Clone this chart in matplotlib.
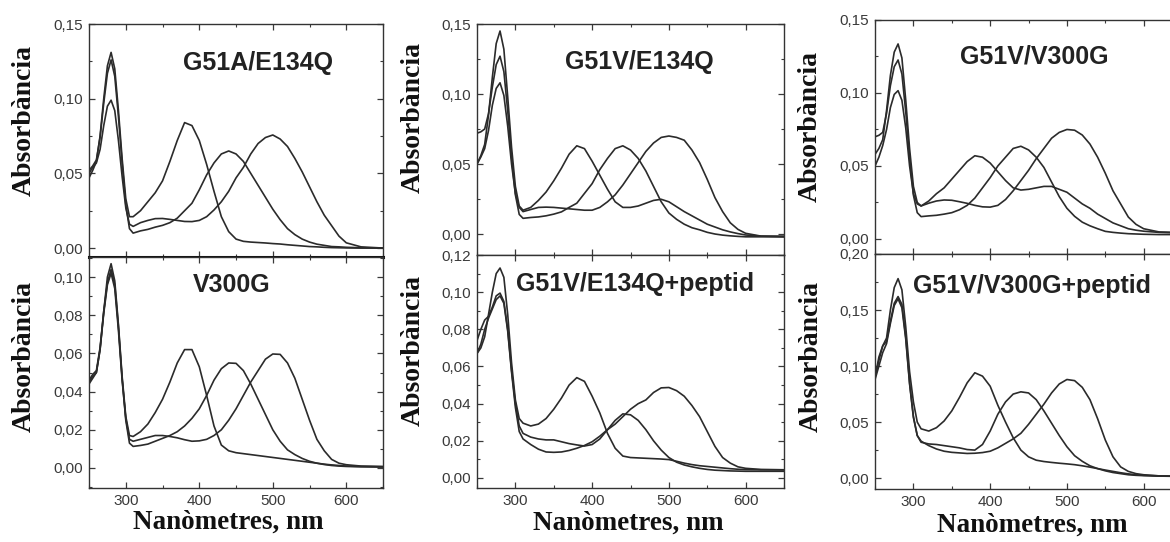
import matplotlib
matplotlib.use('Agg')
import matplotlib.pyplot as plt
from matplotlib.ticker import FixedLocator, MultipleLocator, FuncFormatter

# wavelength grid (nm) shared by every spectrum
wl = [250, 255, 260, 265, 270, 275, 280, 285, 290, 295, 300, 305, 310,
      320, 330, 340, 350, 360, 370, 380, 390, 400, 410, 420, 430, 440,
      450, 460, 470, 480, 490, 500, 510, 520, 530, 540, 550, 560, 570,
      580, 590, 600, 620, 650]

# G51A/E134Q
g51a_e134q_380 = [.047, .052, .058, .075, .100, .122, .131, .120, .092, .060, .033, .021, .021,
                  .025, .031, .037, .045, .058, .072, .084, .082, .072, .056, .038, .021, .011,
                  .006, .0045, .004, .0037, .0034, .003, .0027, .0022, .0018, .0014, .001, .0008, .0005,
                  .0003, .0002, .0001, 0, 0]
g51a_e134q_440 = [.052, .055, .059, .074, .097, .117, .126, .115, .088, .057, .029, .013, .010,
                  .0115, .0125, .014, .0152, .017, .020, .025, .030, .039, .049, .057, .063, .065,
                  .063, .058, .050, .042, .034, .026, .019, .013, .009, .006, .004, .0026, .0018,
                  .001, .0008, .0005, .0002, 0]
g51a_e134q_500 = [.050, .054, .057, .066, .082, .095, .099, .092, .072, .048, .027, .016, .0145,
                  .017, .0185, .0197, .0198, .0192, .0185, .0178, .0177, .0185, .021, .0255, .031, .038,
                  .047, .054, .063, .070, .074, .0757, .073, .068, .060, .051, .041, .031, .022,
                  .015, .008, .0035, .0008, 0]

# V300G
v300g_380 = [.044, .047, .050, .062, .082, .100, .107, .098, .075, .048, .027, .017, .0165,
             .019, .023, .029, .036, .045, .055, .062, .062, .053, .038, .022, .012, .009,
             .008, .0075, .007, .0065, .006, .0055, .005, .0045, .004, .0035, .003, .0025, .002,
             .0016, .0013, .001, .0008, .0006]
v300g_440 = [.046, .049, .051, .063, .082, .097, .104, .096, .074, .047, .025, .013, .0113,
             .0118, .0125, .014, .0155, .017, .019, .022, .026, .031, .038, .046, .052, .055,
             .0548, .051, .044, .036, .028, .020, .014, .0095, .007, .005, .0035, .0025, .0018,
             .0013, .001, .0008, .0006, .0005]
v300g_500 = [.045, .048, .050, .062, .081, .096, .102, .094, .072, .046, .026, .015, .014,
             .015, .016, .017, .017, .0165, .0158, .0148, .014, .0142, .015, .017, .020, .025,
             .031, .038, .045, .051, .057, .0597, .0595, .055, .047, .036, .025, .015, .009,
             .0045, .0025, .0017, .001, .0008]

# G51V/E134Q
g51v_e134q_380 = [.050, .056, .064, .085, .112, .136, .145, .132, .098, .062, .034, .020, .017,
                  .019, .024, .030, .038, .047, .057, .063, .061, .052, .042, .032, .023, .019,
                  .019, .020, .022, .024, .0248, .023, .0195, .016, .013, .010, .007, .005, .003,
                  .0015, .0003, -.0007, -.0015, -.002]
g51v_e134q_440 = [.072, .073, .075, .086, .105, .121, .127, .116, .088, .055, .028, .014, .0112,
                  .0118, .0122, .013, .0142, .0158, .019, .022, .029, .036, .046, .054, .061, .063,
                  .060, .054, .045, .034, .023, .015, .0105, .007, .0045, .003, .0012, 0, -.0008,
                  -.0013, -.0017, -.002, -.002, -.002]
g51v_e134q_500 = [.050, .055, .061, .074, .092, .104, .108, .099, .077, .050, .029, .019, .016,
                  .0175, .019, .0192, .019, .0185, .018, .0175, .017, .017, .019, .023, .028, .035,
                  .043, .051, .059, .065, .069, .070, .069, .067, .060, .051, .039, .026, .016,
                  .008, .0033, .0005, -.0015, -.0015]

# G51V/E134Q+peptid
g51v_e134q_pep_380 = [.067, .070, .076, .088, .100, .110, .113, .108, .088, .062, .042, .032, .0295,
                      .028, .029, .032, .037, .043, .050, .054, .052, .044, .035, .024, .016, .0118,
                      .011, .0108, .0106, .0104, .0102, .0099, .009, .008, .0072, .0066, .0062, .0058, .0054,
                      .005, .0047, .0045, .0044, .0044]
g51v_e134q_pep_440 = [.074, .080, .085, .087, .092, .098, .0995, .095, .080, .058, .040, .028, .024,
                      .022, .021, .0205, .0205, .0195, .0185, .0178, .0172, .018, .021, .026, .031, .0345,
                      .034, .031, .026, .020, .015, .011, .0085, .007, .006, .0052, .0046, .0042, .004,
                      .0038, .0037, .0036, .0036, .0036]
g51v_e134q_pep_500 = [.067, .072, .080, .086, .091, .096, .098, .094, .079, .057, .038, .025, .021,
                      .018, .0155, .014, .0138, .014, .0148, .016, .0175, .0195, .0225, .026, .029, .033,
                      .037, .040, .042, .046, .0485, .0487, .047, .044, .039, .033, .025, .017, .011,
                      .008, .006, .0052, .0046, .0044]

# G51V/V300G
g51v_v300g_380 = [.058, .062, .068, .088, .112, .128, .1336, .124, .095, .062, .036, .025, .0226,
                  .026, .031, .035, .041, .047, .053, .057, .056, .052, .046, .040, .035, .0335,
                  .034, .035, .036, .036, .034, .032, .028, .024, .021, .017, .014, .011, .009,
                  .007, .006, .0053, .0045, .004]
g51v_v300g_440 = [.070, .071, .073, .086, .105, .118, .1226, .113, .087, .056, .030, .018, .0153,
                  .0158, .0162, .017, .018, .020, .023, .028, .035, .042, .050, .056, .062, .0635,
                  .061, .056, .049, .039, .029, .021, .0155, .0115, .009, .007, .0052, .0045, .004,
                  .0036, .0034, .0032, .003, .003]
g51v_v300g_500 = [.050, .056, .064, .075, .090, .099, .1016, .095, .076, .050, .031, .024, .0226,
                  .0245, .026, .0267, .0265, .0255, .0244, .023, .022, .0218, .023, .027, .033, .040,
                  .047, .055, .062, .069, .073, .075, .0745, .0712, .065, .056, .045, .033, .024,
                  .015, .010, .007, .0048, .0044]

# G51V/V300G+peptid
g51v_v300g_pep_380 = [.090, .105, .118, .125, .150, .170, .178, .168, .135, .095, .068, .050, .044,
                      .042, .045, .051, .060, .072, .085, .094, .091, .082, .065, .050, .036, .025,
                      .019, .016, .0148, .014, .0133, .0127, .012, .011, .0098, .0085, .0072, .006, .0048,
                      .0038, .003, .0025, .002, .0015]
g51v_v300g_pep_440 = [.090, .108, .118, .122, .140, .156, .162, .155, .126, .085, .055, .038, .032,
                      .0305, .030, .029, .028, .027, .0255, .025, .030, .042, .057, .068, .075, .077,
                      .076, .070, .060, .049, .038, .028, .020, .015, .011, .0085, .0065, .005, .004,
                      .003, .0025, .0022, .0018, .0015]
g51v_v300g_pep_500 = [.088, .100, .112, .120, .138, .154, .160, .152, .124, .084, .054, .038, .033,
                      .029, .026, .024, .023, .0225, .022, .0222, .0228, .024, .027, .031, .035, .040,
                      .048, .057, .066, .076, .084, .088, .087, .081, .070, .053, .034, .019, .010,
                      .006, .004, .003, .002, .0015]

titles = ['G51A/E134Q', 'V300G', 'G51V/E134Q', 'G51V/E134Q+peptid',
          'G51V/V300G', 'G51V/V300G+peptid']
spectra = [
    [g51a_e134q_380, g51a_e134q_440, g51a_e134q_500],
    [v300g_380, v300g_440, v300g_500],
    [g51v_e134q_380, g51v_e134q_440, g51v_e134q_500],
    [g51v_e134q_pep_380, g51v_e134q_pep_440, g51v_e134q_pep_500],
    [g51v_v300g_380, g51v_v300g_440, g51v_v300g_500],
    [g51v_v300g_pep_380, g51v_v300g_pep_440, g51v_v300g_pep_500],
]
yticks = [[0, .05, .10, .15], [0, .02, .04, .06, .08, .10],
          [0, .05, .10, .15], [0, .02, .04, .06, .08, .10, .12],
          [0, .05, .10, .15], [0, .05, .10, .15, .20]]
ylims = [(-0.006, 0.15), (-0.0105, 0.1105), (-0.015, 0.15), (-0.0054, 0.12),
         (-0.0103, 0.15), (-0.0097, 0.2)]
xticks = [300, 400, 500, 600]

# layout (figure fractions), title spot in axes fractions, label spots in pixels
rects = [[0.0761, 0.5258, 0.2513, 0.4299], [0.0761, 0.0996, 0.2513, 0.4262],
         [0.4077, 0.5295, 0.2624, 0.4262], [0.4077, 0.0996, 0.2624, 0.4299],
         [0.7479, 0.5314, 0.2624, 0.4317], [0.7479, 0.0978, 0.2624, 0.4336]]
title_pos = [(0.575, 0.833), (0.486, 0.879), (0.528, 0.835), (0.515, 0.876),
             (0.518, 0.842), (0.511, 0.864)]
ylab_px = [(24, 121), (24, 357), (413, 118), (413, 351), (810, 127), (811, 357)]
xlab_px = [(228, 522), (628, 523), (1032, 525)]

W, H = 1170, 542
fig = plt.figure(figsize=(W / 100, H / 100), dpi=100)
plt.rcParams['font.family'] = ['Liberation Sans', 'DejaVu Sans']

comma = FuncFormatter(lambda v, pos: f'{v:.2f}'.replace('.', ','))
serif = ['Liberation Serif', 'DejaVu Serif']

for i in range(6):
    ax = fig.add_axes(rects[i])
    for curve in spectra[i]:
        ax.plot(wl, curve, color='#2b2b2b', lw=1.2)
    ax.set_xlim(250, 650)
    ax.set_ylim(*ylims[i])
    ax.xaxis.set_major_locator(FixedLocator(xticks))
    ax.xaxis.set_minor_locator(MultipleLocator(50))
    ax.yaxis.set_major_locator(FixedLocator(yticks[i]))
    step = yticks[i][1] - yticks[i][0]
    ax.yaxis.set_minor_locator(MultipleLocator(step / 2))
    ax.yaxis.set_major_formatter(comma)
    ax.tick_params(which='both', direction='in', top=True, right=True,
                   colors='#3a3a3a', labelsize=11, pad=4)
    ax.tick_params(which='major', length=4, width=0.9)
    ax.tick_params(which='minor', length=2.5, width=0.8)
    for sp in ax.spines.values():
        sp.set_color('#333333')
        sp.set_linewidth(1.0)
    if i % 2 == 0:
        ax.tick_params(labelbottom=False)
    if i == 0:
        ax.spines['bottom'].set_linewidth(2.2)
        ax.spines['bottom'].set_color('#111111')
    ax.text(title_pos[i][0], title_pos[i][1], titles[i], transform=ax.transAxes,
            ha='center', va='center', fontsize=18, fontweight='bold', color='#222222')
    fig.text(ylab_px[i][0] / W, 1 - ylab_px[i][1] / H, 'Absorbància', rotation=90,
             ha='center', va='center', fontsize=20, fontweight='bold',
             family=serif, color='#111111')

for x, y in xlab_px:
    fig.text(x / W, 1 - y / H, 'Nanòmetres, nm', ha='center', va='center',
             fontsize=19.5, fontweight='bold', family=serif, color='#111111')

fig.savefig('out.png', dpi=100)
